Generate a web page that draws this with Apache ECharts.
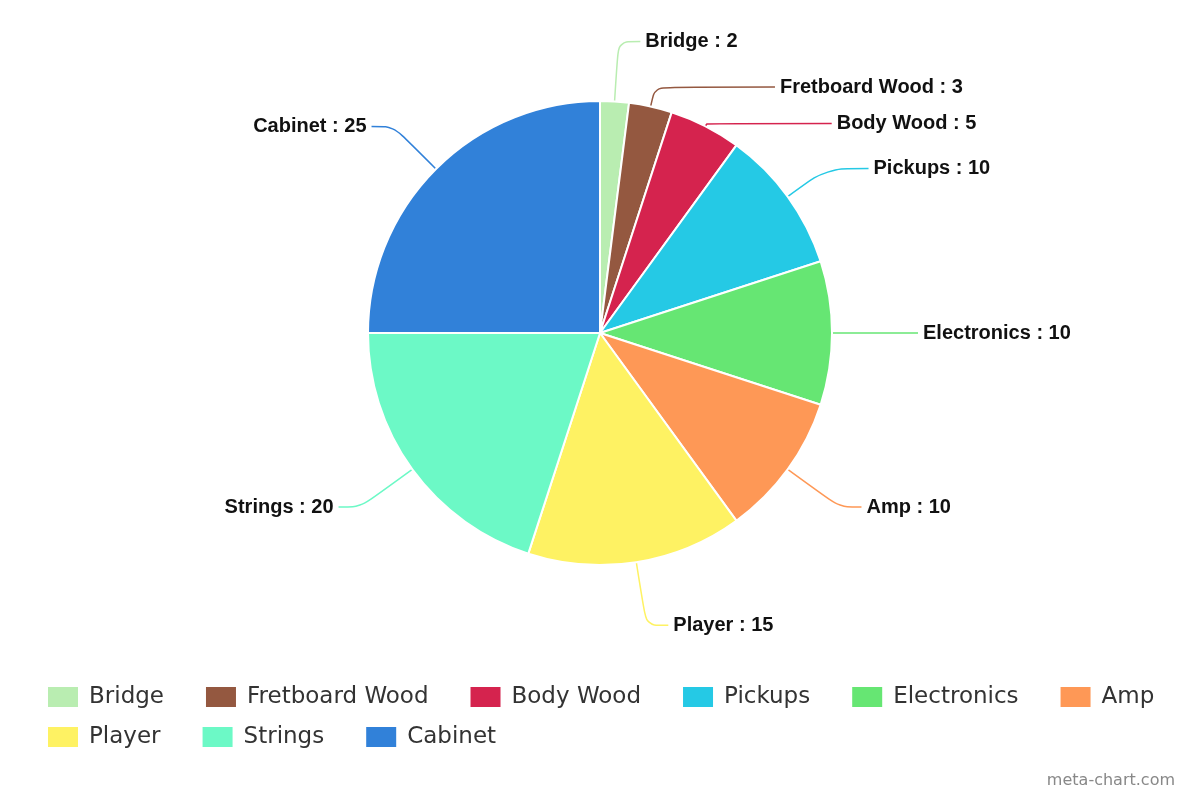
<!DOCTYPE html>
<html>
<head>
<meta charset="utf-8">
<script src="https://cdn.jsdelivr.net/npm/echarts@6/dist/echarts.min.js"></script>
<style>
  html, body { margin: 0; padding: 0; background: #fff; }
  #chart { width: 1200px; height: 800px; }
</style>
</head>
<body>
<div id="chart"></div>
<script>
/* 饼图数据 */
var partNames = ['Bridge', 'Fretboard Wood', 'Body Wood', 'Pickups', 'Electronics', 'Amp', 'Player', 'Strings', 'Cabinet'];
var partValues = [2, 3, 5, 10, 10, 10, 15, 20, 25];
var partColors = ['#b9edb1', '#945840', '#d5234e', '#25c9e5', '#66e673', '#fe9856', '#fef263', '#6cf9c6', '#3181d9'];

/* 引导线长度，上方几块小扇区单独调整 */
var lineLen = [60, 20, 3, 48, 64, 64, 64, 64, 60];
var lineLen2 = [22, 120, 125, 42, 22, 22, 22, 22, 22];

var pieData = [];
for (var i = 0; i < partNames.length; i++) {
    pieData.push({
        name: partNames[i],
        value: partValues[i],
        labelLine: { length: lineLen[i], length2: lineLen2[i] }
    });
}

/* 图例分两行 */
function makeLegend(names, top) {
    return {
        data: names,
        left: 41,
        top: top,
        itemWidth: 32,
        itemHeight: 22,
        itemGap: 40,
        icon: 'rect',
        formatter: function (name) { return '{t|' + name + '}'; },
        textStyle: {
            fontSize: 23, color: '#333', fontFamily: 'DejaVu Sans',
            rich: { t: { fontSize: 23, color: '#333', fontFamily: 'DejaVu Sans', padding: [0, 0, 0, 5] } }
        }
    };
}

var myChart = echarts.init(document.getElementById('chart'));
var option = {
    animation: false,
    color: partColors,
    title: {
        text: 'meta-chart.com',
        right: 20,
        bottom: 6,
        textStyle: { color: '#888', fontSize: 16, fontWeight: 'normal', fontFamily: 'DejaVu Sans' }
    },
    legend: [
        makeLegend(partNames.slice(0, 6), 680),
        makeLegend(partNames.slice(6), 720)
    ],
    series: [{
        type: 'pie',
        center: [600, 333],
        radius: 232,
        startAngle: 90,
        clockwise: true,
        avoidLabelOverlap: false,
        itemStyle: { borderColor: '#fff', borderWidth: 2 },
        label: {
            show: true,
            formatter: '{b} : {c}',
            color: '#111',
            fontSize: 20,
            fontWeight: 'bold',
            fontFamily: 'Liberation Sans'
        },
        labelLine: {
            show: true,
            length: 64,
            length2: 22,
            smooth: 0.3,
            lineStyle: { width: 1.5 }
        },
        data: pieData
    }]
};
myChart.setOption(option);
</script>
</body>
</html>
